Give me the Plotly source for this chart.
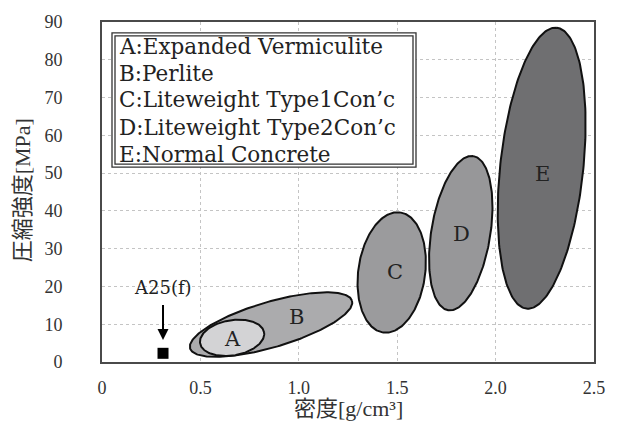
import numpy as np
import plotly.graph_objects as go

# Material regions: centre (density, strength), semi-axes in density-equivalent units, tilt (deg)
region_labels = ["B", "A", "C", "D", "E"]
center_density = [0.859, 0.661, 1.472, 1.823, 2.234]
center_strength = [9.9, 6.4, 23.7, 34.1, 51.3]
semi_major = [0.429, 0.165, 0.310, 0.399, 0.722]
semi_minor = [0.116, 0.090, 0.170, 0.150, 0.211]
tilt_deg = [16.5, 9.8, 82.1, 80.8, 83.9]
label_density = [0.989, 0.664, 1.489, 1.828, 2.240]
label_strength = [11.9, 6.2, 23.8, 33.9, 49.7]
fill_colors = ["#ababad", "#d3d3d5", "#9b9b9d", "#979799", "#6f6f71"]

legend_lines = [
    "A:Expanded Vermiculite",
    "B:Perlite",
    "C:Liteweight Type1Con\u2019c",
    "D:Liteweight Type2Con\u2019c",
    "E:Normal Concrete",
]

# Single measured sample
sample_name = "A25(f)"
sample_density = [0.31]
sample_strength = [2.3]

x_ticks = [0, 0.5, 1.0, 1.5, 2.0, 2.5]
x_ticktext = ["0", "0.5", "1.0", "1.5", "2.0", "2.5"]
y_ticks = list(range(0, 100, 10))

W, H = 618, 430
ML, MR, MT, MB = 102, 24, 20, 68
X_RANGE = [0, 2.5]
Y_RANGE = [0, 90]

# screen aspect: MPa per density unit at equal pixel length
px_per_x = (W - ML - MR) / (X_RANGE[1] - X_RANGE[0])
px_per_y = (H - MT - MB) / (Y_RANGE[1] - Y_RANGE[0])
y_per_x = px_per_x / px_per_y

SERIF = "Liberation Serif"
WIDE_SERIF = "DejaVu Serif"
CJK = "Liberation Serif, Noto Sans CJK JP"

fig = go.Figure()

t = np.linspace(0, 2 * np.pi, 241)
for lab, cx, cy, a, b, ang, col, lx, ly in zip(region_labels, center_density, center_strength,
                                               semi_major, semi_minor, tilt_deg, fill_colors,
                                               label_density, label_strength):
    th = np.deg2rad(ang)
    u = a * np.cos(th) * np.cos(t) - b * np.sin(th) * np.sin(t)
    v = a * np.sin(th) * np.cos(t) + b * np.cos(th) * np.sin(t)
    fig.add_trace(go.Scatter(
        x=cx + u, y=cy + v * y_per_x, mode="lines", fill="toself",
        fillcolor=col, line=dict(color="#111111", width=2),
        hoverinfo="skip", showlegend=False))
    fig.add_annotation(x=lx, y=ly, text=lab, showarrow=False,
                       font=dict(family=WIDE_SERIF, size=21, color="#222222"))

fig.add_trace(go.Scatter(
    x=sample_density, y=sample_strength, mode="markers",
    marker=dict(symbol="square", size=11, color="#000000"),
    showlegend=False, hoverinfo="skip"))

sx, sy = sample_density[0], sample_strength[0]
fig.add_annotation(x=sx, y=sy + 3.5, ax=sx, ay=sy + 13.2, xref="x", yref="y",
                   axref="x", ayref="y", text="", showarrow=True,
                   arrowhead=2, arrowsize=1.1, arrowwidth=2, arrowcolor="#000000")
fig.add_annotation(x=sx, y=sy + 17.4, text=sample_name, showarrow=False,
                   font=dict(family=WIDE_SERIF, size=18, color="#222222"))

# legend box with double border
bx0, bx1 = (112 - ML) / (W - ML - MR), (416 - ML) / (W - ML - MR)
by0, by1 = (H - MB - 166) / (H - MT - MB), (H - MB - 31) / (H - MT - MB)
dx, dy = 3 / (W - ML - MR), 3 / (H - MT - MB)
fig.add_shape(type="rect", xref="paper", yref="paper", x0=bx0, x1=bx1, y0=by0, y1=by1,
              fillcolor="white", line=dict(color="#333333", width=1.3), layer="above")
fig.add_shape(type="rect", xref="paper", yref="paper", x0=bx0 + dx, x1=bx1 - dx,
              y0=by0 + dy, y1=by1 - dy, fillcolor="rgba(0,0,0,0)",
              line=dict(color="#333333", width=1.3), layer="above")

line_y = [45, 71.7, 98.3, 126, 153.3]
for txt, py in zip(legend_lines, line_y):
    fig.add_annotation(xref="paper", yref="paper", x=(117 - ML) / (W - ML - MR),
                       y=(H - MB - py) / (H - MT - MB), text=txt, showarrow=False,
                       xanchor="left", yanchor="middle",
                       font=dict(family=WIDE_SERIF, size=21.5, color="#222222"))

# axis titles
fig.add_annotation(xref="paper", yref="paper", x=0.5, y=(H - MB - 409) / (H - MT - MB),
                   text="密度[g/cm³]", showarrow=False, yanchor="middle",
                   font=dict(family=CJK, size=22, color="#333333"))
fig.add_annotation(xref="paper", yref="paper", x=(22 - ML) / (W - ML - MR), y=0.505,
                   text="圧縮強度[MPa]", showarrow=False, textangle=-90,
                   xanchor="center", yanchor="middle",
                   font=dict(family=CJK, size=22, color="#333333"))

axis_common = dict(showgrid=True, gridcolor="#c4c4c4", griddash="dot", gridwidth=1,
                   zeroline=False, showline=True, mirror=True, linecolor="#4a4a4a",
                   linewidth=2, ticks="", tickfont=dict(family=SERIF, size=18, color="#333333"))

fig.update_xaxes(range=X_RANGE, tickvals=x_ticks, ticktext=x_ticktext,
                 ticklabelstandoff=8, **axis_common)
fig.update_yaxes(range=Y_RANGE, tickvals=y_ticks, ticklabelstandoff=34, **axis_common)

fig.update_layout(width=W, height=H, margin=dict(l=ML, r=MR, t=MT, b=MB),
                  plot_bgcolor="white", paper_bgcolor="white", showlegend=False)

fig.write_html("out.html")
